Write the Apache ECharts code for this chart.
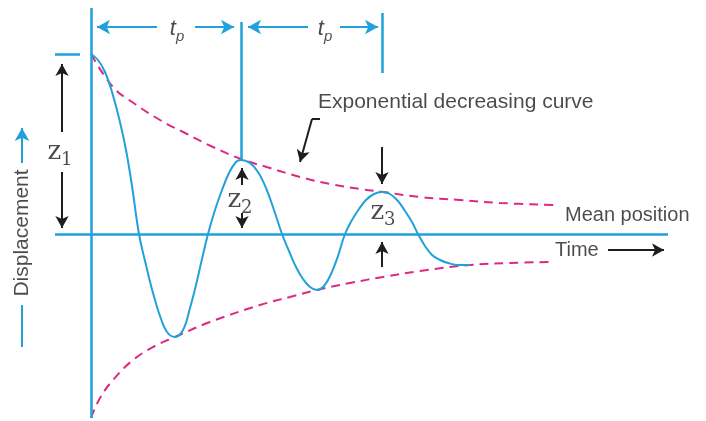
<!DOCTYPE html>
<html>
<head>
<meta charset="utf-8">
<script src="https://cdn.jsdelivr.net/npm/echarts@6/dist/echarts.min.js"></script>
<style>
  html, body { margin: 0; padding: 0; background: #fff; }
  #chart { width: 706px; height: 421px; }
</style>
</head>
<body>
<div id="chart"></div>
<script>
// time along x (0 = start), displacement along y (0 = mean position)
const response = [
  [0, 180], [7, 174], [14, 162], [21, 142], [28, 116], [35, 84], [41, 48], [48, 0],
  [55, -31], [62, -59], [69, -82], [76, -98], [84, -103], [92, -96], [99, -74], [105, -51],
  [111, -25], [117, 0], [124, 24], [131, 44], [138, 61], [145, 72], [150, 74], [159, 71],
  [167, 62], [175, 46], [183, 24], [191, 0], [198, -17], [205, -33], [212, -45], [219, -53],
  [226, -56], [233, -52], [240, -40], [247, -22], [254, 0], [261, 14], [268, 25], [275, 34],
  [283, 40], [291, 42], [299, 40], [307, 33], [314, 23], [321, 12], [327, 0], [334, -12],
  [341, -21], [349, -26], [357, -29], [367, -31], [379, -31]
];
const upperEnvelope = [
  [0, 180], [22, 147], [44, 130], [69, 114], [94, 101], [122, 87], [150, 75], [179, 66],
  [209, 57], [239, 50], [269, 45], [292, 42], [329, 37], [369, 34], [409, 31], [465, 29]
];
const lowerEnvelope = [
  [0, -184], [9, -164], [22, -146], [42, -126], [64, -112], [84, -103], [119, -88], [169, -71],
  [199, -63], [226, -56], [259, -49], [292, -43], [329, -37], [379, -31], [419, -29], [459, -28]
];

// guide lines: time axis, mean position, start level, period markers
const guideLines = [
  [[0, 226], [0, -184]],
  [[-36, 0], [577, 0]],
  [[-36, 180], [-11, 180]],
  [[150, 212], [150, 74]],
  [[291, 221], [291, 161]]
];
// period dimension arrows (arrow head at the second point)
const periodArrows = [
  [[66, 207], [6, 207]],
  [[104, 207], [143, 207]],
  [[217, 207], [157, 207]],
  [[249, 207], [287, 207]]
];
// black arrows (arrow head at the second point)
const blackArrows = [
  [[-29, 102], [-29, 170]],
  [[-29, 62], [-29, 6]],
  [[151, 49], [151, 66]],
  [[151, 21], [151, 6]],
  [[291, 87], [291, 50]],
  [[291, -33], [291, -8]],
  [[221, 115], [209, 72]],
  [[517, -16], [573, -16]]
];
const blackLines = [
  [[229, 115], [221, 115]]
];
const displacementArrow = [[-69, 71], [-69, 106]];
const displacementTail = [[-69, -71], [-69, -113]];

const periodLabelPos = [[86, 205], [234, 205]];
const ampLabelPos = [[-31, 82], [149, 34], [292, 22]];
const ampLabelIdx = ['1', '2', '3'];
const textLabels = ['Exponential decreasing curve', 'Mean position', 'Time'];
const textLabelPos = [[227, 132], [474, 19], [464, -16]];
const axisTitle = 'Displacement';
const axisTitlePos = [-69, 1];

const blue = '#21a1da';
const pink = '#dc2a80';
const ink = '#1e1e1e';

const seg = (pair, arrow, style) => [
  { coord: pair[0], symbol: 'none', lineStyle: style },
  { coord: pair[1], symbol: arrow ? 'arrow' : 'none' }
];

const blueStyle = { color: blue, width: 2.5, type: 'solid' };
const blackStyle = { color: ink, width: 2, type: 'solid' };

const chart = echarts.init(document.getElementById('chart'));
const option = {
  animation: false,
  backgroundColor: '#fff',
  grid: { left: 0, right: 0, top: 0, bottom: 0 },
  xAxis: { type: 'value', min: -91, max: 615, show: false },
  yAxis: { type: 'value', min: -187, max: 234, show: false },
  series: [
    {
      name: 'upper',
      type: 'line',
      data: upperEnvelope,
      symbol: 'none',
      smooth: 0.4,
      lineStyle: { color: pink, width: 2, type: [9, 6] },
      z: 2
    },
    {
      name: 'lower',
      type: 'line',
      data: lowerEnvelope,
      symbol: 'none',
      smooth: 0.4,
      lineStyle: { color: pink, width: 2, type: [9, 6] },
      z: 2
    },
    {
      name: 'response',
      type: 'line',
      data: response,
      symbol: 'none',
      smooth: 0.4,
      lineStyle: { color: blue, width: 2 },
      z: 3
    },
    {
      name: 'guides',
      type: 'scatter',
      data: [],
      z: 4,
      markLine: {
        silent: true,
        animation: false,
        symbolSize: [11, 13],
        label: { show: false },
        emphasis: { disabled: true },
        data: [
          ...guideLines.map(p => seg(p, false, blueStyle)),
          ...periodArrows.map(p => seg(p, true, { color: blue, width: 2, type: 'solid' })),
          seg(displacementArrow, true, { color: blue, width: 2, type: 'solid' }),
          seg(displacementTail, false, { color: blue, width: 2, type: 'solid' })
        ]
      }
    },
    {
      name: 'arrows',
      type: 'scatter',
      data: [],
      z: 5,
      markLine: {
        silent: true,
        animation: false,
        symbolSize: [10, 12],
        label: { show: false },
        emphasis: { disabled: true },
        data: [
          ...blackArrows.map(p => seg(p, true, blackStyle)),
          ...blackLines.map(p => seg(p, false, blackStyle))
        ]
      }
    },
    {
      name: 'labels',
      type: 'scatter',
      symbolSize: 0,
      silent: true,
      z: 6,
      data: [
        ...textLabels.map((t, i) => ({
          value: textLabelPos[i],
          label: {
            show: true, position: 'right', distance: 0, formatter: t,
            fontFamily: 'Liberation Sans', fontSize: i === 0 ? 21 : 20, color: ink
          }
        })),
        {
          value: axisTitlePos,
          label: {
            show: true, position: 'inside', rotate: 90, formatter: axisTitle,
            fontFamily: 'Liberation Sans', fontSize: 21, color: ink
          }
        },
        ...periodLabelPos.map(p => ({
          value: p,
          label: {
            show: true, position: 'inside', formatter: '{t|t}{p|p}',
            rich: {
              t: { fontFamily: 'Liberation Sans', fontStyle: 'italic', fontSize: 22, color: ink, lineHeight: 30, verticalAlign: 'middle' },
              p: { fontFamily: 'Liberation Sans', fontStyle: 'italic', fontSize: 15, color: ink, lineHeight: 16, verticalAlign: 'bottom' }
            }
          }
        })),
        ...ampLabelPos.map((p, i) => ({
          value: p,
          label: {
            show: true, position: 'inside', formatter: '{z|z}{s|' + ampLabelIdx[i] + '}',
            rich: {
              z: { fontFamily: 'DejaVu Serif', fontSize: 26, color: ink, lineHeight: 34, verticalAlign: 'middle' },
              s: { fontFamily: 'DejaVu Serif', fontSize: 18, color: ink, lineHeight: 18, verticalAlign: 'bottom' }
            }
          }
        }))
      ]
    }
  ]
};
chart.setOption(option);
</script>
</body>
</html>
